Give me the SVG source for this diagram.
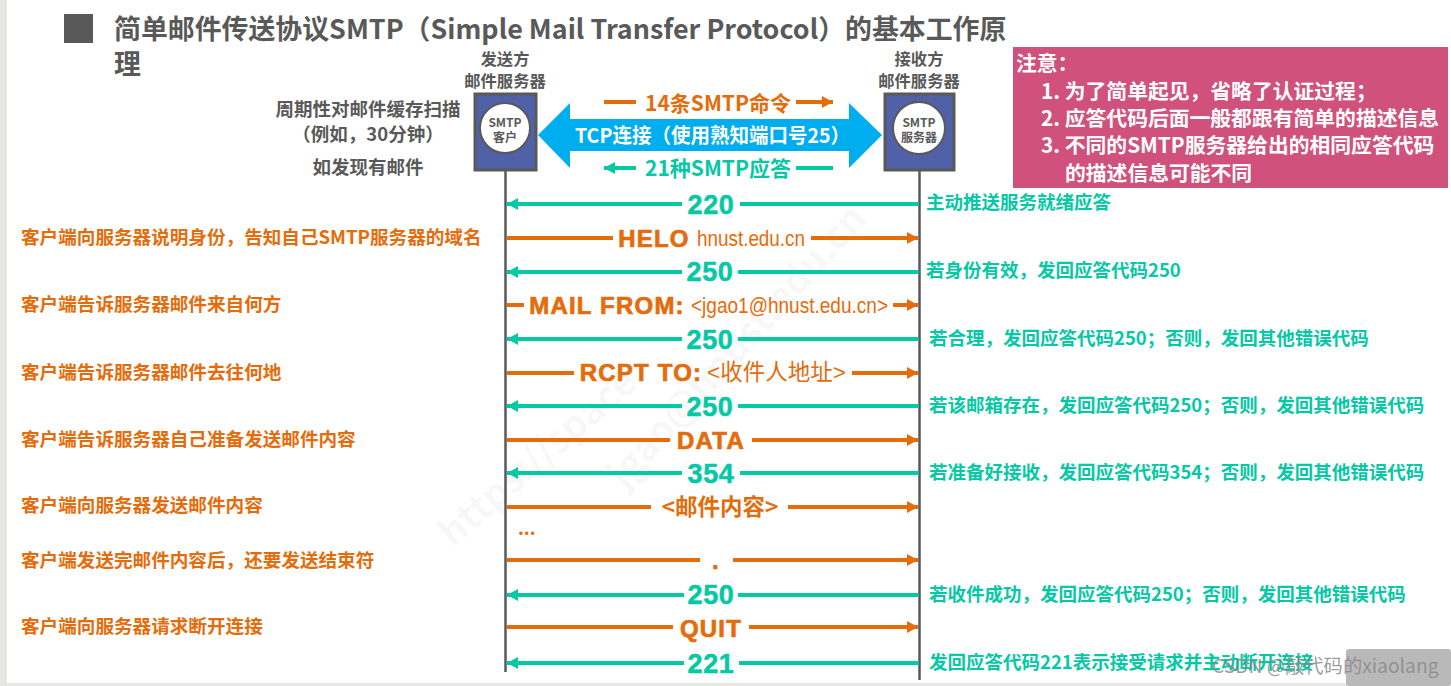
<svg xmlns="http://www.w3.org/2000/svg" width="1451" height="686" viewBox="0 0 1451 686">
<defs>
<marker id="ao" markerUnits="userSpaceOnUse" markerWidth="12" markerHeight="12" refX="11" refY="6" orient="auto-start-reverse"><path d="M0 0L11 6L0 12Z" fill="#e46c0a"/></marker>
<marker id="at" markerUnits="userSpaceOnUse" markerWidth="12" markerHeight="12" refX="11" refY="6" orient="auto-start-reverse"><path d="M0 0L11 6L0 12Z" fill="#05c8a5"/></marker>
</defs>
<style>
text{font-family:"Noto Sans CJK SC","Noto Sans",sans-serif;font-weight:700}
.g{fill:#595959}.o{fill:#e46c0a}.t{fill:#05c8a5}.w{fill:#fff}
.lo{stroke:#e46c0a;stroke-width:4;fill:none}.lt{stroke:#05c8a5;stroke-width:4;fill:none}
.l{font-size:18.6px}.r{font-size:18.5px}
.m{font-size:24px;text-anchor:middle;font-family:"Liberation Sans",sans-serif;letter-spacing:1.2px;stroke-width:.7px}
.d{font-size:27px;text-anchor:middle;font-family:"Liberation Sans",sans-serif;letter-spacing:.6px;stroke-width:.5px}
.mo{stroke:#e46c0a}.mt{stroke:#05c8a5}
.a{font-family:"Liberation Sans","Noto Sans CJK SC",sans-serif;font-weight:400;font-size:22px}
.n{font-size:20.8px;fill:#fff}
</style>
<rect width="1451" height="686" fill="#fff"/>
<rect x="0" y="0" width="7" height="686" fill="#e6e6e2"/>
<rect x="0" y="683" width="1451" height="3" fill="#e6e6e2"/>
<g id="watermark" fill="#000" fill-opacity="0.04" font-size="38">
<text transform="translate(453 548) rotate(-41)">https://space</text>
<text transform="translate(625 490) rotate(-48)">jgao@hnust.edu.cn</text>
</g>
<g id="title">
<rect x="64" y="14" width="29" height="29" fill="#595959"/>
<text class="g" x="114" y="39" font-size="26.900">简单邮件传送协议SMTP（Simple Mail Transfer Protocol）的基本工作原</text>
<text class="g" x="114" y="74" font-size="26.900">理</text>
</g>
<g id="sender">
<text class="g" x="505" y="65" font-size="16.300" text-anchor="middle">发送方</text>
<text class="g" x="505" y="87" font-size="16.300" text-anchor="middle">邮件服务器</text>
<rect x="475" y="94" width="61" height="76" fill="#5161a8" stroke="#595959" stroke-width="3"/>
<circle cx="505" cy="128" r="25" fill="#fff" stroke="#595959" stroke-width="2"/>
<text class="g" x="505" y="127" font-size="12" text-anchor="middle">SMTP</text>
<text class="g" x="505" y="142" font-size="12" text-anchor="middle">客户</text>
</g>
<g id="receiver">
<text class="g" x="919" y="65" font-size="16.300" text-anchor="middle">接收方</text>
<text class="g" x="919" y="87" font-size="16.300" text-anchor="middle">邮件服务器</text>
<rect x="885" y="94" width="69" height="76" fill="#5161a8" stroke="#595959" stroke-width="3"/>
<circle cx="919" cy="128" r="26" fill="#fff" stroke="#595959" stroke-width="2"/>
<text class="g" x="919" y="127" font-size="12" text-anchor="middle">SMTP</text>
<text class="g" x="919" y="142" font-size="12" text-anchor="middle">服务器</text>
</g>
<g id="scan-note">
<text class="g" x="368" y="116" font-size="18.500" text-anchor="middle">周期性对邮件缓存扫描</text>
<text class="g" x="368" y="141" font-size="18.500" text-anchor="middle">（例如，30分钟）</text>
<text class="g" x="368" y="174" font-size="18.500" text-anchor="middle">如发现有邮件</text>
</g>
<g id="note">
<rect x="1013" y="47" width="435" height="141" fill="#d0527c"/>
<text class="n" x="1016" y="71">注意：</text>
<text class="n" x="1041" y="99">1. 为了简单起见，省略了认证过程；</text>
<text class="n" x="1041" y="126">2. 应答代码后面一般都跟有简单的描述信息</text>
<text class="n" x="1041" y="153">3. 不同的SMTP服务器给出的相同应答代码</text>
<text class="n" x="1065" y="181">的描述信息可能不同</text>
</g>
<g id="tcp">
<path d="M538 135L570 103V119H849V103L882 135L849 168V151H570V168Z" fill="#00aeef"/>
<text class="w" x="575" y="143" font-size="20.200" textLength="275" lengthAdjust="spacingAndGlyphs">TCP连接（使用熟知端口号25）</text>
<path class="lo" d="M604 102H636M796 102H833" marker-end="url(#ao)"/>
<text class="o" x="718" y="111" font-size="21" text-anchor="middle">14条SMTP命令</text>
<path class="lt" d="M833 168H796M636 168H604" marker-end="url(#at)"/>
<text class="t" x="718" y="176" font-size="21" text-anchor="middle">21种SMTP应答</text>
</g>
<g id="connectors">
<path d="M505.500 170V672M919.500 170V680" stroke="#595959" stroke-width="2.500" fill="none"/>
<path class="lt" d="M919 204H740M682 204H507" marker-end="url(#at)"/>
<path class="lo" d="M507 238H613M811 238H918" marker-end="url(#ao)"/>
<path class="lt" d="M919 272H738M682 272H507" marker-end="url(#at)"/>
<path class="lo" d="M507 305H524M893 305H918" marker-end="url(#ao)"/>
<path class="lt" d="M919 339H738M682 339H507" marker-end="url(#at)"/>
<path class="lo" d="M507 373H574M852 373H918" marker-end="url(#ao)"/>
<path class="lt" d="M919 406H738M682 406H507" marker-end="url(#at)"/>
<path class="lo" d="M507 440H670M752 440H918" marker-end="url(#ao)"/>
<path class="lt" d="M919 473H740M682 473H507" marker-end="url(#at)"/>
<path class="lo" d="M507 507H651M788 507H918" marker-end="url(#ao)"/>
<path class="lo" d="M507 560H700M733 560H918" marker-end="url(#ao)"/>
<path class="lt" d="M919 595H738M684 595H507" marker-end="url(#at)"/>
<path class="lo" d="M507 627H673M749 627H918" marker-end="url(#ao)"/>
<path class="lt" d="M919 663H739M684 663H507" marker-end="url(#at)"/>
</g>
<g id="messages">
<text class="d t mt" x="711" y="214">220</text>
<text class="m o mo" x="654" y="247">HELO</text><text class="a o" x="697" y="246" textLength="108" lengthAdjust="spacingAndGlyphs">hnust.edu.cn</text>
<text class="d t mt" x="710" y="281">250</text>
<text class="m o mo" x="607" y="314">MAIL FROM:</text><text class="a o" x="691" y="313" textLength="197" lengthAdjust="spacingAndGlyphs">&lt;jgao1@hnust.edu.cn&gt;</text>
<text class="d t mt" x="710" y="349">250</text>
<text class="m o mo" x="641" y="381">RCPT TO:</text><text class="a o" x="707" y="380" style="font-size:22.500px">&lt;收件人地址&gt;</text>
<text class="d t mt" x="710" y="416">250</text>
<text class="m o mo" x="711" y="449">DATA</text>
<text class="d t mt" x="711" y="483">354</text>
<text class="o" x="720" y="515" font-size="22.500" text-anchor="middle">&lt;邮件内容&gt;</text>
<text class="o" x="518" y="535" font-size="18">...</text>
<text class="m o mo" x="716" y="569">.</text>
<text class="d t mt" x="711" y="604">250</text>
<text class="m o mo" x="711" y="637">QUIT</text>
<text class="d t mt" x="711" y="673">221</text>
</g>
<g id="client-labels">
<text class="l o" x="21" y="244">客户端向服务器说明身份，告知自己SMTP服务器的域名</text>
<text class="l o" x="21" y="311">客户端告诉服务器邮件来自何方</text>
<text class="l o" x="21" y="379">客户端告诉服务器邮件去往何地</text>
<text class="l o" x="21" y="446">客户端告诉服务器自己准备发送邮件内容</text>
<text class="l o" x="21" y="512">客户端向服务器发送邮件内容</text>
<text class="l o" x="21" y="567">客户端发送完邮件内容后，还要发送结束符</text>
<text class="l o" x="21" y="633">客户端向服务器请求断开连接</text>
</g>
<g id="server-labels">
<text class="r t" x="926" y="209">主动推送服务就绪应答</text>
<text class="r t" x="926" y="277">若身份有效，发回应答代码250</text>
<text class="r t" x="929" y="345">若合理，发回应答代码250；否则，发回其他错误代码</text>
<text class="r t" x="929" y="412">若该邮箱存在，发回应答代码250；否则，发回其他错误代码</text>
<text class="r t" x="929" y="479">若准备好接收，发回应答代码354；否则，发回其他错误代码</text>
<text class="r t" x="929" y="601">若收件成功，发回应答代码250；否则，发回其他错误代码</text>
<text class="r t" x="929" y="669">发回应答代码221表示接受请求并主动断开连接</text>
</g>
<g id="page-watermark">
<rect x="1346" y="649" width="105" height="37" rx="3" fill="#b9b9b9"/>
<text x="1212" y="673" font-size="19.300" fill="#8a8a8a" fill-opacity="0.85" style="font-weight:400">CSDN @敲代码的xiaolang</text>
</g>
</svg>
